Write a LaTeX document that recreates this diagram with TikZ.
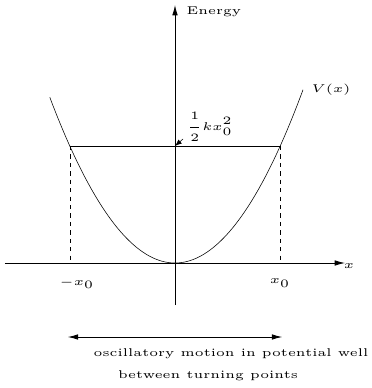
\documentclass[tikz,border=0pt]{standalone}
\usetikzlibrary{arrows.meta}

\newcommand{\lab}[1]{\scalebox{1.85}[1.6]{\tiny #1}}

\begin{document}
\begin{tikzpicture}[
  axis/.style={-{Latex[length=2.6mm,width=1.4mm]}, semithick},
  turn/.style={dashed, thin},
  lbl/.style={inner sep=1pt}
]
\useasboundingbox (-4.375,-3.125) rectangle (4.925,6.575);
\coordinate (O) at (0,0);
\coordinate (xmin) at (-4.25,0);
\coordinate (xmax) at (4.25,0);
\coordinate (ymin) at (0,-1.05);
\coordinate (ymax) at (0,6.45);
\coordinate (L) at (-2.63,2.925);
\coordinate (R) at (2.63,2.925);
\coordinate (Lfoot) at (-2.63,0);
\coordinate (Rfoot) at (2.63,0);
\coordinate (E) at (0,2.925);
\coordinate (tail) at (0.2,3.1);
\coordinate (mleft) at (-2.68,-1.85);
\coordinate (mright) at (2.68,-1.85);

% axes
\draw[axis] (xmin) -- (xmax);
\draw[axis] (ymin) -- (ymax);
\node[lbl] (xlabel) at (4.35,-0.075) {\lab{$x$}};
\node[lbl, anchor=west] (energy) at (0.25,6.275) {\lab{Energy}};

% potential well
\draw[thin] plot[domain=-3.13:3.2, samples=80, smooth] (\x,{0.4229*\x*\x});
\node[lbl] (V) at (3.9,4.325) {\lab{$V(x)$}};

% total energy and turning points
\draw[thin] (L) -- (R);
\draw[turn] (L) -- (Lfoot);
\draw[turn] (R) -- (Rfoot);
\node[lbl] (minus) at (-2.45,-0.5) {\lab{$-x_0$}};
\node[lbl] (plus) at (2.625,-0.5) {\lab{$x_0$}};
\node[lbl] (level) at (0.875,3.4) {\lab{$\displaystyle\frac{1}{2}kx_0^2$}};
\draw[-{Latex[length=1.7mm,width=1.3mm]}, thin] (tail) -- (E);

% range of motion
\draw[{Latex[length=2.6mm,width=1.4mm]}-{Latex[length=2.6mm,width=1.4mm]}, semithick] (mleft) -- (mright);
\node[lbl] (motion) at (1.4,-2.275) {\lab{oscillatory motion in potential well}};
\node[lbl] (points) at (0.825,-2.825) {\lab{between turning points}};
\end{tikzpicture}
\end{document}
